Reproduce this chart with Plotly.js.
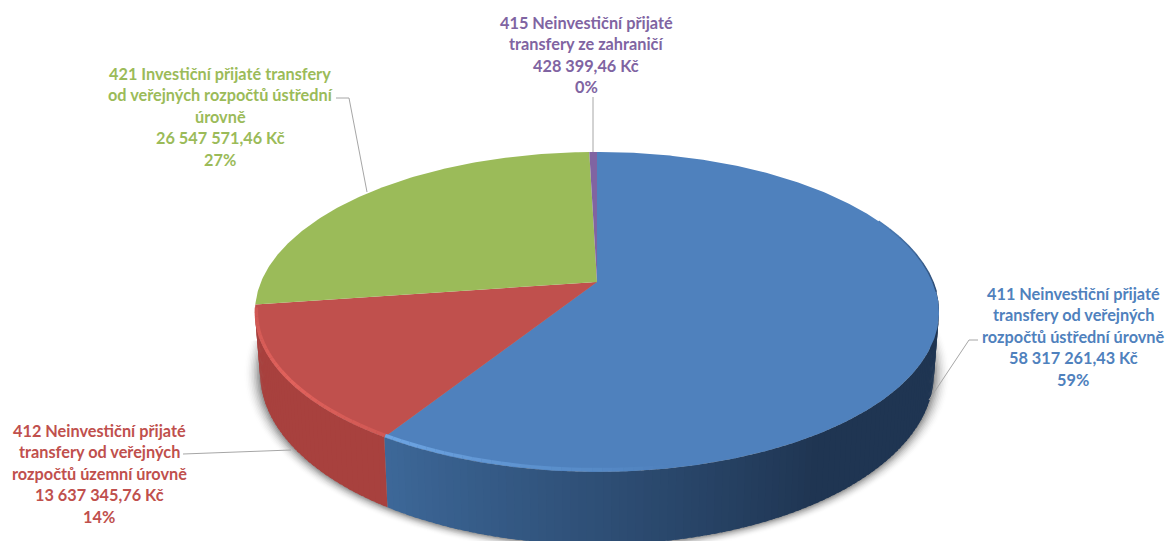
<!DOCTYPE html>
<html><head><meta charset="utf-8">
<script src="https://cdn.plot.ly/plotly-3.0.1.min.js"></script>
<style>html,body{margin:0;padding:0;background:#fff;overflow:hidden}#c{width:1168px;height:541px}</style>
</head><body><div id="c"></div>
<script>
// data
const values = [58317261.43, 13637345.76, 26547571.46, 428399.46];
const colors = ['#4f81bd', '#c0504d', '#9bbb59', '#8064a2'];
const wallLight = ['#3d6899', '#a8413e'];
const wallDark = ['#1f3552', '#933835'];
const labelLines = [
  ['411 Neinvestiční přijaté', 'transfery od veřejných', 'rozpočtů ústřední úrovně', '58 317 261,43 Kč', '59%'],
  ['412 Neinvestiční přijaté', 'transfery od veřejných', 'rozpočtů územní úrovně', '13 637 345,76 Kč', '14%'],
  ['421 Investiční přijaté transfery', 'od veřejných rozpočtů ústřední', 'úrovně', '26 547 571,46 Kč', '27%'],
  ['415 Neinvestiční přijaté', 'transfery ze zahraničí', '428 399,46 Kč', '0%']
];
const labelX = [1073, 99, 220, 586];
const labelTop = [293, 430, 73, 22];
const leaderX = [[929, 969, 978], [291, 183], [367, 349, 336], [593, 593]];
const leaderY = [[400, 340, 340], [450, 454], [192, 98, 98], [152, 97]];

// projection of the tilted disc
const CX = 597, CY = 282, B = 336, A = 154.4, K = 0.187, DEPTH = 59, SHRINK = 0.985;
const TAU = Math.PI * 2;
const total = values.reduce((a, b) => a + b, 0);
function rimTop(t) {
  const u = Math.sin(t), v = Math.cos(t), w = 1 + K * v;
  return [CX + B * u / w, CY - A * v / w];
}
function rimBottom(t, grow) {
  const p = rimTop(t), w = 1 + K * Math.cos(t), g = grow || 0;
  const dx = (p[0] - CX) * SHRINK;
  const y = p[1] + DEPTH / w;
  const r = Math.hypot(dx, y - 340) || 1;
  return [CX + dx + dx / r * g * 1.6, y + Math.abs(y - 340) / r * g];
}
function mix(a, b, f) {
  const h = s => [1, 3, 5].map(i => parseInt(s.substr(i, 2), 16));
  const x = h(a), y = h(b);
  return 'rgb(' + x.map((c, i) => Math.round(c + (y[i] - c) * f)).join(',') + ')';
}
function arc(fn, t0, t1) {
  const n = Math.max(2, Math.ceil(Math.abs(t1 - t0) / 0.01));
  const out = [];
  for (let i = 0; i <= n; i++) out.push(fn(t0 + (t1 - t0) * i / n));
  return out;
}
const poly = (pts, fill) => ({
  type: 'scatter', mode: 'lines', x: pts.map(p => p[0]), y: pts.map(p => p[1]),
  fill: 'toself', fillcolor: fill, line: {width: 0}, hoverinfo: 'skip', showlegend: false
});

const traces = [];
// soft shadow under the disc, from its faint outer edge inwards
const SHADOW_STEPS = 10;
for (let g = SHADOW_STEPS; g >= 1; g -= 1) {
  const ring = arc(t => rimBottom(t, g), 0.45 * Math.PI, 1.5 * Math.PI);
  ring.push([CX, CY], ring[0]);
  const f = 1 - (g - 1) / SHADOW_STEPS;
  traces.push(poly(ring, mix('#ffffff', '#9a9a9a', f * f)));
}

// slice angle ranges from the values
let acc = 0;
const ranges = values.map(v => { const a = acc; acc += v / total; return [a * TAU, acc * TAU]; });

// side wall of the two front slices, in thin strips so that the shade can change along it
[0, 1].forEach(s => {
  const r = ranges[s];
  const a = Math.max(r[0], Math.PI * 0.4), b = r[1];
  const n = Math.ceil((b - a) / 0.02);
  for (let i = n - 1; i >= 0; i--) {
    const t0 = a + (b - a) * i / n, t1 = a + (b - a) * (i + 1) / n;
    const tm = (t0 + t1) / 2;
    const f = Math.min(1, Math.max(0, (Math.PI * 1.18 - tm) / 1.15));
    const t0w = Math.max(a, t0 - 0.012);
    const pts = arc(rimTop, t0w, t1).concat(arc(t => rimBottom(t), t1, t0w));
    pts.push(pts[0]);
    traces.push(poly(pts, mix(wallLight[s], wallDark[s], f)));
  }
});

// top face slices
ranges.forEach((r, s) => {
  const pts = [[CX, CY]].concat(arc(rimTop, r[0], r[1]), [[CX, CY]]);
  traces.push(poly(pts, colors[s]));
});

// bevel highlight along the front rim
const bevel = ['#6ea6e4', '#e2625c'];
[0, 1].forEach(s => {
  const r = ranges[s];
  const a = s === 0 ? Math.PI * 0.94 : r[0], b = s === 0 ? r[1] : r[1] - 0.02;
  const n = 30;
  for (let i = 0; i < n; i++) {
    const t0 = a + (b - a) * i / n, t1 = a + (b - a) * (i + 1) / n;
    const f = s === 0 ? i / n : 1 - Math.abs(i / n - 0.45) / 0.9;
    const ptsT = arc(t => { const p = rimTop(t); return [p[0] + (CX - p[0]) * 0.004, p[1] + (CY - p[1]) * 0.012]; }, t0, t1);
    traces.push({
      type: 'scatter', mode: 'lines', x: ptsT.map(p => p[0]), y: ptsT.map(p => p[1]),
      line: {width: 3.5, color: mix(colors[s], bevel[s], f)}, hoverinfo: 'skip', showlegend: false
    });
  }
});

// dark edge on the far right of the rim, fading in from the top
for (let i = 0; i < 8; i++) {
  const edge = arc(rimTop, (0.36 + i * 0.02) * Math.PI, (0.38 + i * 0.02) * Math.PI);
  traces.push({
    type: 'scatter', mode: 'lines', x: edge.map(p => p[0]), y: edge.map(p => p[1]),
    line: {width: 1.5, color: mix(colors[0], '#2f4f78', (i + 1) / 8)}, hoverinfo: 'skip', showlegend: false
  });
}

// leader lines
leaderX.forEach((xs, i) => traces.push({
  type: 'scatter', mode: 'lines', x: xs, y: leaderY[i],
  line: {width: 1, color: '#a6a6a6'}, hoverinfo: 'skip', showlegend: false
}));

const LINE = 21.6;
const annotations = [];
labelLines.forEach((lines, i) => lines.forEach((text, j) => annotations.push({
  x: labelX[i], y: labelTop[i] + j * LINE, xref: 'x', yref: 'y', text: text, showarrow: false,
  xanchor: 'center', yanchor: 'middle',
  font: {family: 'Lato, Carlito, sans-serif', size: 16.3, weight: 700, color: colors[i]}
})));

Plotly.newPlot('c', traces, {
  width: 1168, height: 541, margin: {l: 0, r: 0, t: 0, b: 0},
  paper_bgcolor: '#fff', plot_bgcolor: '#fff', showlegend: false,
  xaxis: {range: [0, 1168], visible: false, fixedrange: true},
  yaxis: {range: [541, 0], visible: false, fixedrange: true},
  annotations: annotations
}, {displayModeBar: false, staticPlot: true});
</script></body></html>
